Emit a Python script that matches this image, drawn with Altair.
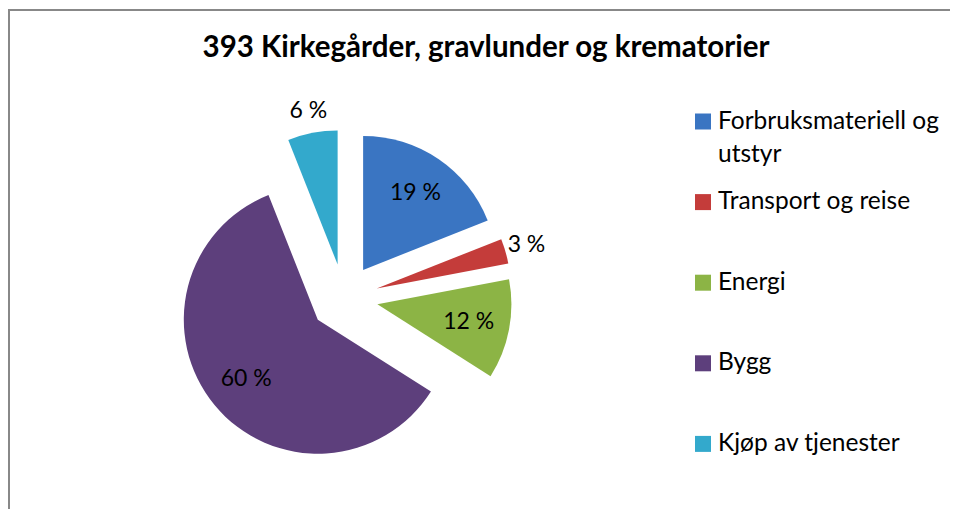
import altair as alt
import pandas as pd

# ---- data ----
categories = ["Forbruksmateriell og utstyr", "Transport og reise", "Energi", "Bygg", "Kjøp av tjenester"]
values = [19, 3, 12, 60, 6]
value_labels = ["19 %", "3 %", "12 %", "60 %", "6 %"]
legend_labels = ["Forbruksmateriell og\nutstyr", "Transport og reise", "Energi", "Bygg", "Kjøp av tjenester"]
colors = ["#3a75c2", "#c43c3a", "#8cb445", "#5d3f7c", "#33a9cc"]
title_text = "393 Kirkegårder, gravlunder og krematorier"

df = pd.DataFrame({
    "cat": categories,
    "value": values,
    "label": value_labels,
    "legend": legend_labels,
    "order": list(range(len(categories))),
})

# ---- layout (pixels) ----
W, H = 942, 501
CX, CY = 336, 290      # pie centre
EXPLODE = 34           # explosion distance
R = 134                # pie radius
FONT = "Lato"

color = alt.Color("cat:N", scale=alt.Scale(domain=categories, range=colors), legend=None)

base = (
    alt.Chart(df)
    .transform_joinaggregate(total="sum(value)")
    .transform_window(cum="sum(value)", sort=[alt.SortField("order")], frame=[None, 0])
    .transform_calculate(
        a0="2*PI*(datum.cum-datum.value)/datum.total",
        a1="2*PI*datum.cum/datum.total",
    )
    .transform_calculate(mid="(datum.a0+datum.a1)/2")
    .transform_calculate(
        px=f"{CX}+{EXPLODE}*sin(datum.mid)",
        py=f"{CY}-{EXPLODE}*cos(datum.mid)",
        lr="datum.value < 10 ? 156 : 93",
    )
    .transform_calculate(
        lx="datum.px + datum.lr*sin(datum.mid)",
        ly="datum.py - datum.lr*cos(datum.mid)",
        legy="113.5 + datum.order*80.6",
    )
)

arcs = base.mark_arc(outerRadius=R).encode(
    x=alt.X("px:Q", scale=None, axis=None),
    y=alt.Y("py:Q", scale=None, axis=None),
    theta=alt.Theta("a0:Q", scale=None),
    theta2=alt.Theta2("a1:Q"),
    color=color,
)

slice_labels = base.mark_text(font=FONT, fontSize=23, color="#000000", align="center", baseline="middle").encode(
    x=alt.X("lx:Q", scale=None, axis=None),
    y=alt.Y("ly:Q", scale=None, axis=None),
    text="label:N",
)

legend_sym = base.mark_square(size=256, opacity=1, filled=True).encode(
    x=alt.value(695),
    y=alt.Y("legy:Q", scale=None, axis=None),
    color=color,
)

legend_txt = base.mark_text(
    font=FONT, fontSize=24.5, color="#000000", align="left", baseline="alphabetic",
    lineBreak="\n", lineHeight=33, dy=7,
).encode(
    x=alt.value(710),
    y=alt.Y("legy:Q", scale=None, axis=None),
    text="legend:N",
)

one = pd.DataFrame({"t": [title_text]})
title = alt.Chart(one).mark_text(
    font=FONT, fontSize=29.5, fontWeight="bold", color="#000000", align="center", baseline="alphabetic"
).encode(x=alt.value(478), y=alt.value(49), text="t:N")

border_top = alt.Chart(one).mark_rule(color="#888888", strokeWidth=2).encode(
    x=alt.value(0), x2=alt.value(W), y=alt.value(2)
)
border_left = alt.Chart(one).mark_rule(color="#888888", strokeWidth=2).encode(
    x=alt.value(1), y=alt.value(1), y2=alt.value(H)
)

chart = (
    alt.layer(border_top, border_left, title, arcs, slice_labels, legend_sym, legend_txt)
    .properties(width=W, height=H, autosize=alt.AutoSizeParams(type="none"), padding=0)
    .configure_view(strokeWidth=0)
)

chart.save("out.html", embed_options={"renderer": "svg", "actions": False})
